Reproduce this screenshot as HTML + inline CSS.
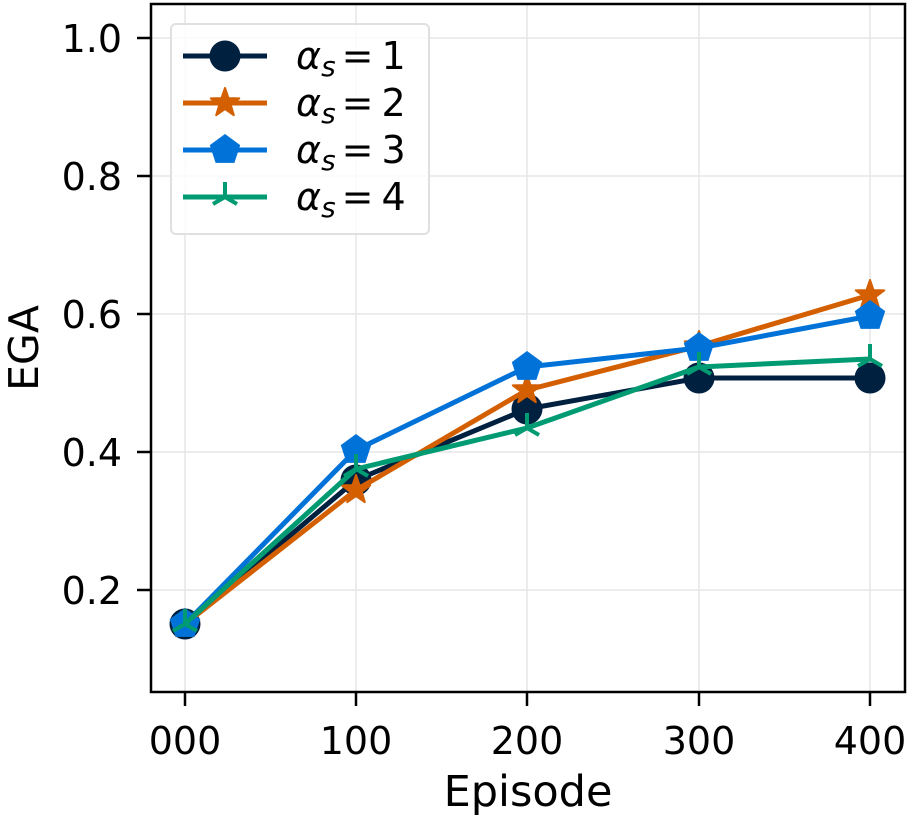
<!DOCTYPE html>
<html><head><meta charset="utf-8"><style>body{margin:0;background:#fff}svg{display:block}text{font-family:"DejaVu Sans","Liberation Sans",sans-serif;fill:#000}</style></head>
<body>
<svg width="914" height="822" viewBox="0 0 914 822" xmlns="http://www.w3.org/2000/svg">
<defs>
<circle id="c" r="15.5" fill="#002040"/>
<polygon id="s" fill="#d45f00" points="0,-15 3.53,-4.85 14.27,-4.64 5.71,1.85 8.82,12.14 0,6 -8.82,12.14 -5.71,1.85 -14.27,-4.64 -3.53,-4.85" stroke="#d45f00" stroke-width="2" stroke-linejoin="round"/>
<polygon id="p" fill="#0072d8" points="0,-16 15.2,-4.9 9.4,12.9 -9.4,12.9 -15.2,-4.9"/>
<g id="t" stroke="#009b72" stroke-width="4" fill="none"><line x1="0" y1="0" x2="0" y2="-15"/><line x1="0" y1="0" x2="-12" y2="7"/><line x1="0" y1="0" x2="12" y2="7"/></g>
</defs>
<g stroke="#e6e6e6" stroke-width="1.5">
<line x1="185" y1="4" x2="185" y2="692"/><line x1="356" y1="4" x2="356" y2="692"/><line x1="527" y1="4" x2="527" y2="692"/><line x1="699" y1="4" x2="699" y2="692"/><line x1="870" y1="4" x2="870" y2="692"/>
<line x1="151" y1="38" x2="905" y2="38"/><line x1="151" y1="176" x2="905" y2="176"/><line x1="151" y1="314" x2="905" y2="314"/><line x1="151" y1="452" x2="905" y2="452"/><line x1="151" y1="590" x2="905" y2="590"/>
</g>
<g fill="none" stroke-width="5" stroke-linejoin="round">
<polyline stroke="#002040" points="185,624 356,480 527,409 699,378 870,378"/>
<use href="#c" x="185" y="624"/><use href="#c" x="356" y="480"/><use href="#c" x="527" y="409"/><use href="#c" x="699" y="378"/><use href="#c" x="870" y="378"/>
<polyline stroke="#d45f00" points="185,624 356,490 527,390 699,346 870,295"/>
<use href="#s" x="185" y="624"/><use href="#s" x="356" y="490"/><use href="#s" x="527" y="390"/><use href="#s" x="699" y="346"/><use href="#s" x="870" y="295"/>
<polyline stroke="#0072d8" points="185,624 356,450 527,367 699,348 870,316"/>
<use href="#p" x="185" y="624"/><use href="#p" x="356" y="450"/><use href="#p" x="527" y="367"/><use href="#p" x="699" y="348"/><use href="#p" x="870" y="316"/>
<polyline stroke="#009b72" points="185,624 356,469 527,428 699,367 870,359"/>
<use href="#t" x="185" y="624"/><use href="#t" x="356" y="469"/><use href="#t" x="527" y="428"/><use href="#t" x="699" y="367"/><use href="#t" x="870" y="359"/>
</g>
<rect x="151" y="4" width="754" height="688" fill="none" stroke="#000" stroke-width="2.5"/>
<g stroke="#000" stroke-width="2.5">
<line x1="137" y1="38" x2="151" y2="38"/><line x1="137" y1="176" x2="151" y2="176"/><line x1="137" y1="314" x2="151" y2="314"/><line x1="137" y1="452" x2="151" y2="452"/><line x1="137" y1="590" x2="151" y2="590"/>
<line x1="185" y1="692" x2="185" y2="706"/><line x1="356" y1="692" x2="356" y2="706"/><line x1="527" y1="692" x2="527" y2="706"/><line x1="699" y1="692" x2="699" y2="706"/><line x1="870" y1="692" x2="870" y2="706"/>
</g>
<g font-size="38" text-anchor="end">
<text x="122" y="52">1.0</text><text x="122" y="190">0.8</text><text x="122" y="328">0.6</text><text x="122" y="466">0.4</text><text x="122" y="604">0.2</text>
</g>
<g font-size="38" text-anchor="middle">
<text x="185" y="754">000</text><text x="356" y="754">100</text><text x="527" y="754">200</text><text x="699" y="754">300</text><text x="870" y="754">400</text>
<text x="528" y="806" font-size="43">Episode</text>
</g>
<text font-size="41" text-anchor="middle" transform="translate(38,348) rotate(-90)">EGA</text>
<rect x="171" y="24" width="258" height="210" rx="5" fill="#fff" fill-opacity="0.8" stroke="#e0e0e0" stroke-width="2"/>
<g stroke-width="5">
<line x1="183" y1="56" x2="267" y2="56" stroke="#002040"/><use href="#c" x="225" y="56"/>
<line x1="183" y1="103" x2="267" y2="103" stroke="#d45f00"/><use href="#s" x="225" y="103"/>
<line x1="183" y1="150" x2="267" y2="150" stroke="#0072d8"/><use href="#p" x="225" y="150"/>
<line x1="183" y1="197" x2="267" y2="197" stroke="#009b72"/><use href="#t" x="225" y="197"/>
</g>
<g font-size="38">
<text x="296" y="69"><tspan font-style="italic">α</tspan><tspan font-style="italic" font-size="28" dy="7">s</tspan><tspan dy="-7" dx="6">=</tspan><tspan dx="8">1</tspan></text>
<text x="296" y="116"><tspan font-style="italic">α</tspan><tspan font-style="italic" font-size="28" dy="7">s</tspan><tspan dy="-7" dx="6">=</tspan><tspan dx="8">2</tspan></text>
<text x="296" y="163"><tspan font-style="italic">α</tspan><tspan font-style="italic" font-size="28" dy="7">s</tspan><tspan dy="-7" dx="6">=</tspan><tspan dx="8">3</tspan></text>
<text x="296" y="210"><tspan font-style="italic">α</tspan><tspan font-style="italic" font-size="28" dy="7">s</tspan><tspan dy="-7" dx="6">=</tspan><tspan dx="8">4</tspan></text>
</g>
</svg>
</body></html>
